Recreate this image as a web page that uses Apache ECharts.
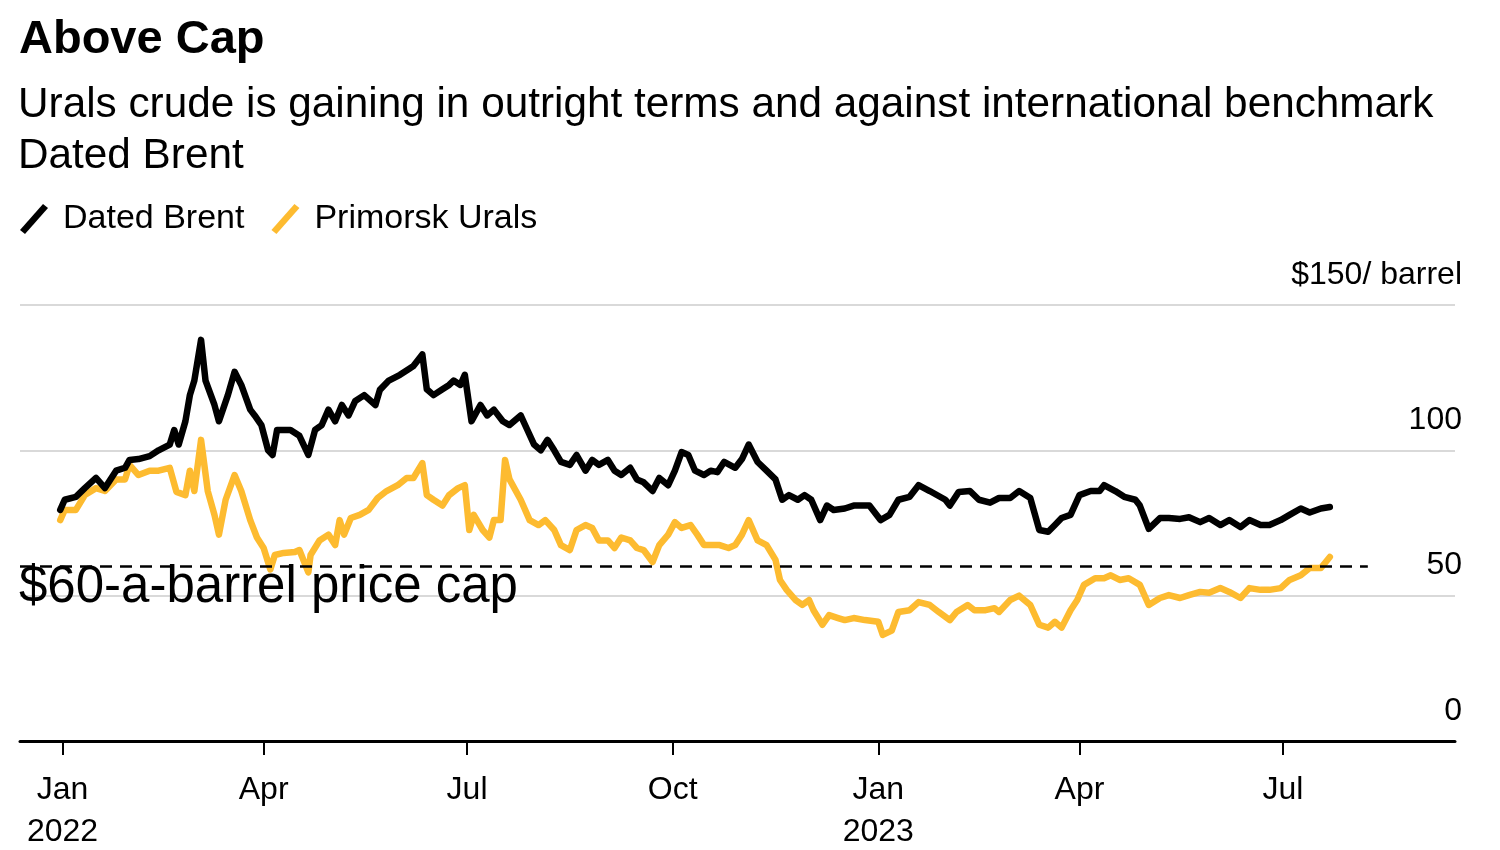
<!DOCTYPE html>
<html>
<head>
<meta charset="utf-8">
<script src="https://cdn.jsdelivr.net/npm/echarts@6/dist/echarts.min.js"></script>
<style>
html,body{margin:0;padding:0;background:#fff;}
#chart{width:1500px;height:850px;}
</style>
</head>
<body>
<div id="chart"></div>
<script>
const titleText = 'Above Cap';
const subtitleText = 'Urals crude is gaining in outright terms and against international benchmark\nDated Brent';
const seriesNames = ['Dated Brent', 'Primorsk Urals'];
const capLabel = '$60-a-barrel price cap';
const capValue = 60;
const capStart = '2021-12-13';
const capEnd = '2023-08-08';
const axisMin = '2021-12-13';
const axisMax = '2023-09-16';

const tickDates = ['2022-01-01','2022-04-01','2022-07-01','2022-10-01','2023-01-01','2023-04-01','2023-07-01'];
const tickLabels = ['Jan\n2022','Apr','Jul','Oct','Jan\n2023','Apr','Jul'];
const yTicks = [0, 50, 100, 150];
const yTopLabel = '$150/ barrel';

const brentDates = ['2021-12-31','2022-01-02','2022-01-07','2022-01-11','2022-01-16','2022-01-20','2022-01-25','2022-01-29','2022-01-31','2022-02-04','2022-02-09','2022-02-13','2022-02-18','2022-02-20','2022-02-22','2022-02-25','2022-02-27','2022-03-01','2022-03-04','2022-03-06','2022-03-10','2022-03-12','2022-03-16','2022-03-19','2022-03-22','2022-03-26','2022-03-28','2022-03-31','2022-04-03','2022-04-05','2022-04-07','2022-04-13','2022-04-17','2022-04-21','2022-04-24','2022-04-27','2022-04-30','2022-05-03','2022-05-06','2022-05-09','2022-05-12','2022-05-16','2022-05-21','2022-05-23','2022-05-27','2022-06-01','2022-06-05','2022-06-07','2022-06-11','2022-06-13','2022-06-16','2022-06-20','2022-06-23','2022-06-25','2022-06-28','2022-06-30','2022-07-03','2022-07-07','2022-07-10','2022-07-13','2022-07-17','2022-07-20','2022-07-25','2022-07-28','2022-07-31','2022-08-03','2022-08-06','2022-08-09','2022-08-12','2022-08-16','2022-08-19','2022-08-23','2022-08-26','2022-08-29','2022-09-02','2022-09-05','2022-09-08','2022-09-12','2022-09-15','2022-09-18','2022-09-22','2022-09-25','2022-09-29','2022-10-02','2022-10-05','2022-10-08','2022-10-11','2022-10-15','2022-10-18','2022-10-21','2022-10-24','2022-10-29','2022-11-01','2022-11-04','2022-11-08','2022-11-12','2022-11-16','2022-11-19','2022-11-22','2022-11-26','2022-11-29','2022-12-02','2022-12-06','2022-12-09','2022-12-12','2022-12-17','2022-12-21','2022-12-28','2023-01-02','2023-01-06','2023-01-10','2023-01-15','2023-01-19','2023-01-24','2023-01-31','2023-02-02','2023-02-06','2023-02-11','2023-02-15','2023-02-20','2023-02-24','2023-03-01','2023-03-05','2023-03-10','2023-03-14','2023-03-18','2023-03-21','2023-03-24','2023-03-28','2023-04-01','2023-04-06','2023-04-10','2023-04-12','2023-04-17','2023-04-21','2023-04-26','2023-04-28','2023-05-02','2023-05-07','2023-05-11','2023-05-16','2023-05-20','2023-05-25','2023-05-29','2023-06-03','2023-06-07','2023-06-12','2023-06-16','2023-06-21','2023-06-25','2023-06-30','2023-07-04','2023-07-09','2023-07-13','2023-07-18','2023-07-22'];
const brentPrices = [79.5,83,84,87,90.5,87,93,94,96.7,97,98,100,102,107,102,110,119,124,138,124,115.6,110,119,127,122.5,114,112,108.7,100,98.4,107,107,105,98.4,107,108.7,114,110,115.6,112,117,119,115.6,120.8,124,126,128,129,133,121,119,121,122.5,124,122.5,126,110,115.6,112,114,110,108.7,112,107,102,100,103.6,100,96,95,98.4,93,96.7,95,96.7,93,91.5,94,90,89,86,90.5,88,93,99.4,98.4,93,91.5,93,92.5,96,94,97,102,96,93,90,83,84.6,83,84.6,83,76,81,79.5,80,81,81,76,77.8,83,84,88,86,83,81,85.7,86,83,82,83.6,83.6,86,83.6,72.6,72,74.3,76.7,77.8,84.6,86,86,88,86,84,83,81,73,76.7,76.7,76.4,77,75.3,76.7,74.3,76,73.6,76,74.3,74.3,76,77.8,80,78.6,80,80.5];

const uralsDates = ['2021-12-31','2022-01-02','2022-01-07','2022-01-11','2022-01-16','2022-01-20','2022-01-25','2022-01-29','2022-01-31','2022-02-04','2022-02-09','2022-02-13','2022-02-18','2022-02-21','2022-02-25','2022-02-27','2022-03-01','2022-03-04','2022-03-07','2022-03-10','2022-03-12','2022-03-15','2022-03-19','2022-03-22','2022-03-26','2022-03-29','2022-04-01','2022-04-04','2022-04-06','2022-04-10','2022-04-15','2022-04-17','2022-04-21','2022-04-22','2022-04-26','2022-04-30','2022-05-03','2022-05-05','2022-05-07','2022-05-10','2022-05-14','2022-05-18','2022-05-22','2022-05-26','2022-05-31','2022-06-04','2022-06-07','2022-06-11','2022-06-13','2022-06-16','2022-06-20','2022-06-23','2022-06-27','2022-06-30','2022-07-02','2022-07-04','2022-07-08','2022-07-11','2022-07-13','2022-07-16','2022-07-18','2022-07-20','2022-07-25','2022-07-29','2022-08-02','2022-08-05','2022-08-09','2022-08-12','2022-08-16','2022-08-19','2022-08-23','2022-08-26','2022-08-29','2022-09-02','2022-09-05','2022-09-08','2022-09-12','2022-09-15','2022-09-18','2022-09-22','2022-09-25','2022-09-29','2022-10-02','2022-10-05','2022-10-09','2022-10-12','2022-10-15','2022-10-19','2022-10-22','2022-10-26','2022-10-29','2022-11-01','2022-11-04','2022-11-08','2022-11-12','2022-11-16','2022-11-18','2022-11-21','2022-11-25','2022-11-28','2022-12-01','2022-12-03','2022-12-07','2022-12-10','2022-12-14','2022-12-17','2022-12-21','2022-12-26','2023-01-01','2023-01-03','2023-01-07','2023-01-10','2023-01-15','2023-01-19','2023-01-24','2023-01-28','2023-02-02','2023-02-05','2023-02-10','2023-02-13','2023-02-18','2023-02-22','2023-02-24','2023-03-01','2023-03-05','2023-03-10','2023-03-14','2023-03-18','2023-03-21','2023-03-24','2023-03-28','2023-03-31','2023-04-03','2023-04-08','2023-04-12','2023-04-15','2023-04-19','2023-04-23','2023-04-28','2023-05-02','2023-05-07','2023-05-11','2023-05-16','2023-05-20','2023-05-25','2023-05-29','2023-06-03','2023-06-07','2023-06-12','2023-06-16','2023-06-21','2023-06-25','2023-06-30','2023-07-04','2023-07-09','2023-07-13','2023-07-18','2023-07-22'];
const uralsPrices = [76,79.5,79.5,84.6,87,86,90,90,95,91.5,93,93,94,85.7,84.6,93,86,103.6,86,77.8,71,83,91.5,86,76,70,66.4,59,64,64.7,65,65.7,58,64,69,71,67.4,76,71,76.7,77.8,79.5,83.6,86,88,90.5,90.5,95.6,84.6,83,81,84.6,87,88,72.6,77.8,72.6,70,76,76,96.7,90,83,76,74.3,76,72.6,67.4,65.7,72.6,74.3,73.3,69,69,66.4,70,69,66.4,65.7,61.6,67.4,71,75.3,73.3,74.3,71,67.4,67.4,67.4,66.4,67.4,71,76,69,67.4,62.3,55.4,52,48.5,46.8,48.5,45,40,43.3,42.3,41.6,42.3,41.6,41,36.5,38,44.4,45,47.8,46.8,44.4,41.6,44.4,46.8,45,45,45.7,44.4,48.5,50,46.8,40,39,41,39,45,48.5,53.7,56,56,57,55.4,56,53.7,46.8,49.2,50.2,49.2,50.2,51.3,51,52.6,51.3,49.2,52.6,52,52,52.6,55.4,57,59.5,59.5,63.3];

const colors = ['#000000', '#FDBB30'];
const FONT = 'Liberation Sans, Arial, sans-serif';

function toTs(s){ const p = s.split('-').map(Number); return new Date(p[0], p[1]-1, p[2]).getTime(); }
const tickTs = tickDates.map(toTs);
const tickMap = {}; tickTs.forEach((t,i)=>{ tickMap[t] = tickLabels[i]; });

const brentData = brentDates.map((d,i)=>[toTs(d), brentPrices[i]]);
const uralsData = uralsDates.map((d,i)=>[toTs(d), uralsPrices[i]]);

const slash = 'path://M0,26 L5,30 L28,4 L23,0 Z';

const chart = echarts.init(document.getElementById('chart'), null, {renderer:'canvas'});
chart.setOption({
  animation: false,
  backgroundColor: '#ffffff',
  textStyle: { fontFamily: FONT },
  title: [
    { text: titleText, left: 19, top: 17, padding: 0,
      textStyle: { fontSize: 47, fontWeight: 'bold', color: '#000', fontFamily: FONT } },
    { text: subtitleText, left: 18, top: 80, padding: 0,
      textStyle: { fontSize: 42.3, fontWeight: 'normal', color: '#000', lineHeight: 51, fontFamily: FONT } }
  ],
  legend: {
    left: 20, top: 202, padding: 0,
    itemWidth: 28, itemHeight: 30, itemGap: 27,
    icon: slash,
    textStyle: { fontSize: 34, color: '#000', fontFamily: FONT, padding: [0,0,0,10] },
    data: seriesNames
  },
  grid: { left: 20, right: 45, top: 305, bottom: 109, containLabel: false, outerBoundsMode: 'none' },
  xAxis: {
    type: 'value',
    min: toTs(axisMin), max: toTs(axisMax),
    axisLine: { show: true, onZero: false, lineStyle: { color: '#000', width: 3 } },
    axisTick: { show: true, customValues: tickTs, length: 14, lineStyle: { color: '#000', width: 2 } },
    axisLabel: {
      customValues: tickTs,
      fontSize: 32, color: '#000', fontFamily: FONT, margin: 28, lineHeight: 42,
      formatter: function(v){ return tickMap[v] !== undefined ? tickMap[v] : ''; }
    },
    splitLine: { show: false }
  },
  yAxis: {
    type: 'value', position: 'right',
    min: 0, max: 150, interval: 50,
    axisLine: { show: false }, axisTick: { show: false },
    axisLabel: {
      fontSize: 32, color: '#000', fontFamily: FONT, align: 'right', margin: 7,
      verticalAlign: 'bottom', padding: [0,0,14,0],
      formatter: function(v){ return v === yTicks[yTicks.length-1] ? yTopLabel : String(v); }
    },
    splitLine: { show: true, lineStyle: { color: '#d9d9d9', width: 2 } }
  },
  graphic: [
    { type: 'text', left: 19, top: 562, z: 100,
      style: { text: capLabel, fontSize: 51, fill: '#000', fontFamily: FONT } }
  ],
  series: [
    {
      name: seriesNames[0], type: 'line', data: brentData, showSymbol: false,
      color: colors[0], lineStyle: { color: colors[0], width: 6.5, join: 'round', cap: 'round' }, z: 3,
      markLine: {
        silent: true, symbol: 'none',
        lineStyle: { color: '#000', width: 2.5, type: [12, 8] },
        label: { show: false },
        data: [[ { coord: [toTs(capStart), capValue] }, { coord: [toTs(capEnd), capValue] } ]]
      }
    },
    {
      name: seriesNames[1], type: 'line', data: uralsData, showSymbol: false,
      color: colors[1], lineStyle: { color: colors[1], width: 6.5, join: 'round', cap: 'round' }, z: 2
    }
  ]
});
</script>
</body>
</html>
